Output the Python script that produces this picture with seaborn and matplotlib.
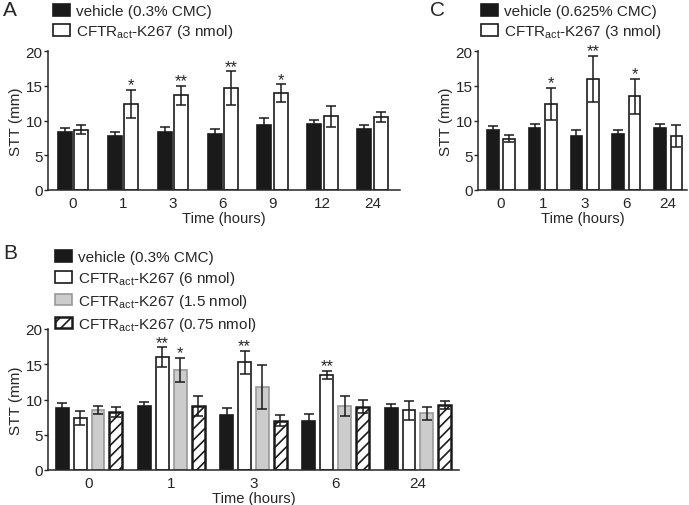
import seaborn as sns
import pandas as pd
import numpy as np
import matplotlib.pyplot as plt

sns.set_style('ticks')
plt.rcParams['font.family'] = ['Liberation Sans', 'DejaVu Sans']
plt.rcParams['mathtext.fontset'] = 'custom'
plt.rcParams['mathtext.rm'] = 'Liberation Sans'
plt.rcParams['mathtext.default'] = 'regular'
plt.rcParams['hatch.linewidth'] = 1.2

# panel A data
a_times = ['0', '1', '3', '6', '9', '12', '24']
a_vehicle = [8.4, 7.7, 8.4, 8.0, 9.3, 9.55, 8.8]
a_vehicle_err = [0.55, 0.6, 0.6, 0.8, 1.0, 0.5, 0.5]
a_k267 = [8.7, 12.4, 13.6, 14.7, 13.9, 10.6, 10.5]
a_k267_err = [0.7, 2.0, 1.4, 2.4, 1.3, 1.5, 0.7]
a_stars = ['', '*', '**', '**', '*', '', '']

# panel C data
c_times = ['0', '1', '3', '6', '24']
c_vehicle = [8.6, 8.85, 7.8, 8.1, 8.85]
c_vehicle_err = [0.6, 0.6, 0.8, 0.6, 0.6]
c_k267 = [7.4, 12.4, 16.0, 13.5, 7.75]
c_k267_err = [0.5, 2.3, 3.3, 2.5, 1.6]
c_stars = ['', '*', '**', '*', '']

# panel B data
b_times = ['0', '1', '3', '6', '24']
b_vehicle = [8.8, 9.05, 7.85, 7.0, 8.8]
b_vehicle_err = [0.7, 0.6, 1.0, 1.0, 0.6]
b_6nmol = [7.35, 16.0, 15.25, 13.45, 8.45]
b_6nmol_err = [1.0, 1.4, 1.7, 0.6, 1.3]
b_15nmol = [8.5, 14.2, 11.8, 9.05, 8.05]
b_15nmol_err = [0.6, 1.7, 3.1, 1.4, 0.9]
b_075nmol = [8.25, 9.05, 7.0, 9.0, 9.25]
b_075nmol_err = [0.7, 1.4, 0.8, 0.9, 0.6]
b_stars_6 = ['', '**', '**', '**', '']
b_stars_15 = ['', '*', '', '', '']

ACT = r'CFTR$_{\mathregular{act}}$-K267'


def make_df(times, series):
    rows = []
    for name, vals, errs in series:
        for t, v, e in zip(times, vals, errs):
            rows.append({'time': t, 'group': name, 'stt': v, 'err': e})
    return pd.DataFrame(rows)


def draw_panel(ax, df, times, names, colors, edges, hatches, width, gap):
    sns.barplot(data=df, x='time', y='stt', hue='group', order=times,
                hue_order=names, palette=colors, width=width, gap=gap,
                errorbar=None, legend=False, ax=ax, saturation=1)
    tops = {}
    for name, cont, ec, h in zip(names, ax.containers, edges, hatches):
        sub = df[df['group'] == name].set_index('time').loc[times]
        xs = []
        for p in cont:
            p.set_edgecolor(ec)
            p.set_linewidth(1.2 if not h else 1.8)
            if h:
                p.set_hatch(h)
            xs.append(p.get_x() + p.get_width() / 2)
        ax.errorbar(xs, sub['stt'].values, yerr=sub['err'].values, fmt='none',
                    ecolor='#1a1a1a', elinewidth=1.1, capsize=3.5, capthick=1.1,
                    zorder=5)
        tops[name] = (np.array(xs), sub['stt'].values + sub['err'].values)
    ax.set_ylim(0, 20)
    ax.set_yticks([0, 5, 10, 15, 20])
    ax.set_ylabel('STT (mm)', fontsize=11, labelpad=2)
    ax.set_xlabel('Time (hours)', fontsize=10.6, labelpad=1)
    ax.tick_params(axis='y', length=3, width=1, labelsize=11, pad=1)
    ax.tick_params(axis='x', length=0, labelsize=11, pad=4)
    sns.despine(ax=ax)
    for s in ['left', 'bottom']:
        ax.spines[s].set_linewidth(1.1)
    return tops


def add_stars(ax, xs, tops, stars):
    for x, t, s in zip(xs, tops, stars):
        if s:
            ax.text(x, t + 0.05, s, ha='center', va='baseline', fontsize=12)


fig = plt.figure(figsize=(6.89, 5.06), dpi=100)
axA = fig.add_axes([48 / 689, 1 - 191 / 506, (400 - 48) / 689, (191 - 52) / 506])
axC = fig.add_axes([478 / 689, 1 - 191 / 506, (687 - 478) / 689, (191 - 52) / 506])
axB = fig.add_axes([48 / 689, 1 - 471 / 506, (459 - 48) / 689, (471 - 330) / 506])

# panel A
namesA = ['vehicle (0.3% CMC)', ACT + ' (3 nmol)']
dfA = make_df(a_times, [(namesA[0], a_vehicle, a_vehicle_err),
                        (namesA[1], a_k267, a_k267_err)])
topsA = draw_panel(axA, dfA, a_times, namesA, ['#1a1a1a', 'white'],
                   ['#1a1a1a', '#1a1a1a'], [None, None], 0.66, 0.15)
add_stars(axA, *topsA[namesA[1]], a_stars)
axA.set_xlim(-0.5, 6.55)

# panel C
namesC = ['vehicle (0.625% CMC)', ACT + ' (3 nmol)']
dfC = make_df(c_times, [(namesC[0], c_vehicle, c_vehicle_err),
                        (namesC[1], c_k267, c_k267_err)])
topsC = draw_panel(axC, dfC, c_times, namesC, ['#1a1a1a', 'white'],
                   ['#1a1a1a', '#1a1a1a'], [None, None], 0.79, 0.3)
add_stars(axC, *topsC[namesC[1]], c_stars)
axC.set_xlim(-0.55, 4.45)

# panel B
namesB = ['vehicle (0.3% CMC)', ACT + ' (6 nmol)', ACT + ' (1.5 nmol)',
          ACT + ' (0.75 nmol)']
dfB = make_df(b_times, [(namesB[0], b_vehicle, b_vehicle_err),
                        (namesB[1], b_6nmol, b_6nmol_err),
                        (namesB[2], b_15nmol, b_15nmol_err),
                        (namesB[3], b_075nmol, b_075nmol_err)])
topsB = draw_panel(axB, dfB, b_times, namesB,
                   ['#1a1a1a', 'white', '#cccccc', 'white'],
                   ['#1a1a1a', '#1a1a1a', '#999999', '#1a1a1a'],
                   [None, None, None, '///'], 0.87, 0.28)
add_stars(axB, *topsB[namesB[1]], b_stars_6)
add_stars(axB, *topsB[namesB[2]], b_stars_15)
axB.set_xlim(-0.5, 4.5)


def add_legend(ax, names, x, y, spacing):
    handles = [cont[0] for cont in ax.containers]
    ax.legend(handles, names, loc='upper left', bbox_to_anchor=(x, y),
              bbox_transform=fig.transFigure, frameon=False, fontsize=11,
              handlelength=1.1, handleheight=0.8, handletextpad=0.4,
              labelspacing=spacing, borderpad=0, borderaxespad=0)


add_legend(axA, namesA, 53 / 689, 0.99, 0.28)
add_legend(axC, namesC, 481 / 689, 0.99, 0.28)
add_legend(axB, namesB, 55 / 689, 0.504, 0.32)

fig.text(0.004, 0.998, 'A', fontsize=15, va='top')
fig.text(430 / 689, 0.998, 'C', fontsize=15, va='top')
fig.text(0.004, 1 - 244 / 506, 'B', fontsize=15, va='top')

fig.savefig('out.png', dpi=100)
